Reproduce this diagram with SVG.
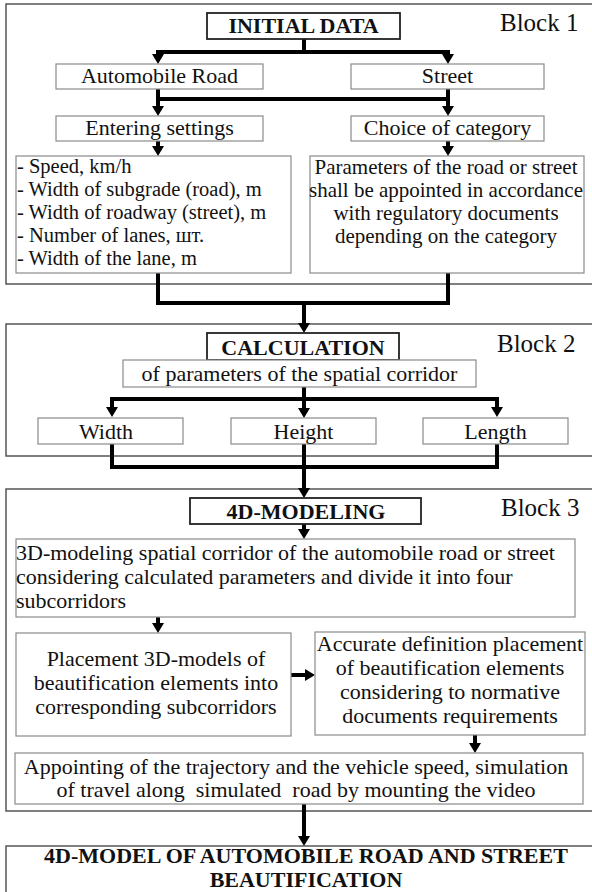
<svg xmlns="http://www.w3.org/2000/svg" width="592" height="892" viewBox="0 0 592 892">
<style>
.frame{fill:none;stroke:#555;stroke-width:1.5}
.box{fill:#fff;stroke:#8a8a8a;stroke-width:1.2}
.hbox{fill:#fff;stroke:#222;stroke-width:1.8}
.t{font-family:"Liberation Serif","Times New Roman",serif;font-size:22px;fill:#111}
.s{font-size:20.5px}
.m{font-size:21px}
.c{text-anchor:middle}
.b{font-weight:bold;font-size:22px}
.blk{font-size:25px}
.conn{fill:none;stroke:#000;stroke-width:4;stroke-linejoin:miter}
.arr{marker-end:url(#ah)}
.arr2{marker-start:url(#ah);marker-end:url(#ah)}
</style>
<defs>
<marker id="ah" viewBox="0 0 10 12" refX="2" refY="6" markerWidth="10" markerHeight="13" markerUnits="userSpaceOnUse" orient="auto-start-reverse">
<path d="M0,0 L10,6 L0,12 z" fill="#000"/>
</marker>
</defs>
<rect id="block1" class="frame" x="6" y="4" width="600" height="280"/>
<rect id="block2" class="frame" x="6" y="324" width="600" height="132"/>
<rect id="block3" class="frame" x="6" y="489" width="600" height="322"/>
<text class="t blk" x="500" y="31">Block 1</text>
<text class="t blk" x="497" y="352">Block 2</text>
<text class="t blk" x="501" y="516">Block 3</text>
<g id="connectors">
<path class="conn" d="M304,39 V52"/>
<path class="conn arr2" d="M158,56 V52 H448 V56"/>
<path class="conn" d="M158,99 H448"/>
<path class="conn arr" d="M158,89 V108"/>
<path class="conn arr" d="M448,89 V108"/>
<path class="conn arr" d="M158,141 V148"/>
<path class="conn arr" d="M448,141 V148"/>
<path class="conn" d="M158,273 V303 H448 V273"/>
<path class="conn arr" d="M304,303 V325"/>
<path class="conn" d="M304,387 V399"/>
<path class="conn arr2" d="M112,409 V399 H497 V409"/>
<path class="conn arr" d="M304,399 V410"/>
<path class="conn" d="M112,444 V467 H497 V444"/>
<path class="conn arr" d="M304,444 V490"/>
<path class="conn arr" d="M304,524 V531"/>
<path class="conn arr" d="M158,617 V625"/>
<path class="conn arr" d="M291,675 H307"/>
<path class="conn arr" d="M475,735 V745"/>
<path class="conn arr" d="M304,804 V838"/>
</g>
<g id="initial-data"><rect class="hbox" x="207" y="13" width="193" height="26"/><text class="t c b" x="303.5" y="33">INITIAL DATA</text></g>
<g id="automobile-road"><rect class="box" x="56" y="64" width="207" height="25"/><text class="t c" x="159.5" y="83">Automobile Road</text></g>
<g id="street"><rect class="box" x="351" y="64" width="193" height="25"/><text class="t c" x="447.5" y="83">Street</text></g>
<g id="entering-settings"><rect class="box" x="56" y="116" width="207" height="25"/><text class="t c" x="159.5" y="135">Entering settings</text></g>
<g id="choice-category"><rect class="box" x="351" y="116" width="193" height="25"/><text class="t c" x="447.5" y="135">Choice of category</text></g>
<g id="settings-list"><rect class="box" x="16" y="156" width="275" height="117"/>
<text class="t s" x="17" y="173">- Speed, km/h</text>
<text class="t s" x="17" y="196">- Width of subgrade (road), m</text>
<text class="t s" x="17" y="219">- Width of roadway (street), m</text>
<text class="t s" x="17" y="242">- Number of lanes, шт.</text>
<text class="t s" x="17" y="265">- Width of the lane, m</text></g>
<g id="category-params"><rect class="box" x="310" y="156" width="274" height="117"/>
<text class="t c m" x="446" y="174">Parameters of the road or street</text>
<text class="t c m" x="446" y="197">shall be appointed in accordance</text>
<text class="t c m" x="446" y="220">with regulatory documents</text>
<text class="t c m" x="446" y="243">depending on the category</text></g>
<g id="calculation"><rect class="hbox" x="207" y="333" width="192" height="27"/><text class="t c b" x="303" y="355">CALCULATION</text></g>
<g id="corridor-params"><rect class="box" x="123" y="360" width="353" height="27"/><text class="t c" x="299.5" y="381">of parameters of the spatial corridor</text></g>
<g id="width"><rect class="box" x="38" y="418" width="145" height="26"/><text class="t c" x="106" y="439">Width</text></g>
<g id="height"><rect class="box" x="231" y="418" width="145" height="26"/><text class="t c" x="303.5" y="439">Height</text></g>
<g id="length"><rect class="box" x="423" y="418" width="145" height="26"/><text class="t c" x="495.5" y="439">Length</text></g>
<g id="modeling-4d"><rect class="hbox" x="190" y="498" width="231" height="26"/><text class="t c b" x="306" y="519">4D-MODELING</text></g>
<g id="modeling-3d"><rect class="box" x="16" y="539" width="559" height="78"/>
<text class="t" x="16" y="560">3D-modeling spatial corridor of the automobile road or street</text>
<text class="t" x="16" y="584">considering calculated parameters and divide it into four</text>
<text class="t" x="16" y="608">subcorridors</text></g>
<g id="placement"><rect class="box" x="16" y="633" width="275" height="103"/>
<text class="t c" x="156" y="666">Placement 3D-models of</text>
<text class="t c" x="156" y="690">beautification elements into</text>
<text class="t c" x="156" y="714">corresponding subcorridors</text></g>
<g id="accurate"><rect class="box" x="315" y="632" width="270" height="103"/>
<text class="t c" x="450" y="651">Accurate definition placement</text>
<text class="t c" x="450" y="675">of beautification elements</text>
<text class="t c" x="450" y="699">considering to normative</text>
<text class="t c" x="450" y="723">documents requirements</text></g>
<g id="appointing"><rect class="box" x="15" y="753" width="568" height="51"/>
<text class="t c" x="296" y="774">Appointing of the trajectory and the vehicle speed, simulation</text>
<text class="t c" x="296" y="797" xml:space="preserve">of travel along  simulated  road by mounting the video</text></g>
<g id="result"><rect class="frame" x="6" y="846" width="600" height="60"/>
<text class="t c b" x="306" y="862.5">4D-MODEL OF AUTOMOBILE ROAD AND STREET</text>
<text class="t c b" x="306" y="887">BEAUTIFICATION</text></g>
</svg>
